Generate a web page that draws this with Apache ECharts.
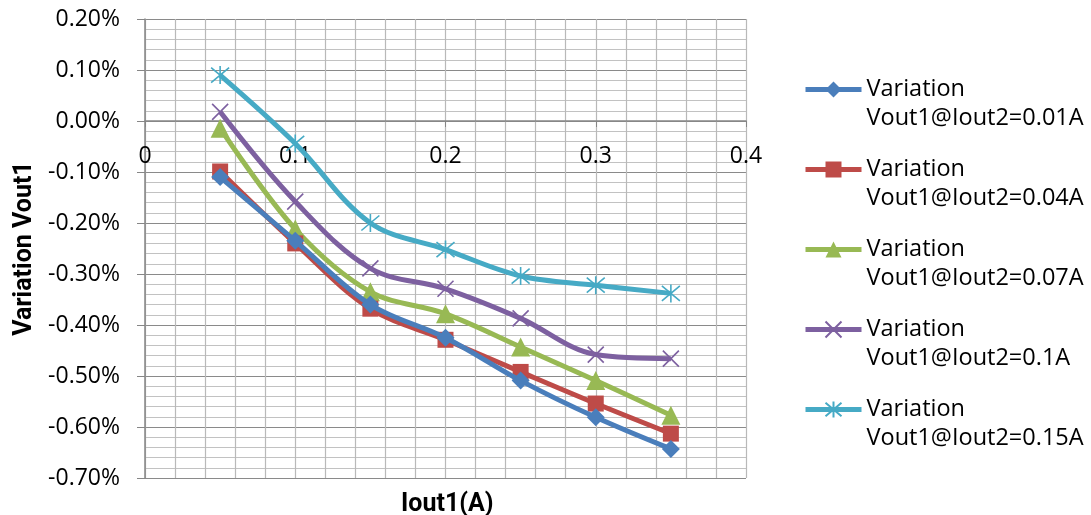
<!DOCTYPE html>
<html>
<head>
<meta charset="utf-8">
<script src="https://cdn.jsdelivr.net/npm/echarts@6/dist/echarts.min.js"></script>
<style>
  html, body { margin: 0; padding: 0; background: #fff; }
  #chart { width: 1091px; height: 515px; }
</style>
</head>
<body>
<div id="chart"></div>
<script>
// Output current Iout1 (A)
const iout1 = [0.05, 0.1, 0.15, 0.2, 0.25, 0.3, 0.35];

// Vout1 variation (%) for each Iout2 load
const varIout2_001 = [-0.110, -0.235, -0.360, -0.425, -0.509, -0.581, -0.643];
const varIout2_004 = [-0.099, -0.240, -0.368, -0.429, -0.492, -0.554, -0.613];
const varIout2_007 = [-0.014, -0.212, -0.335, -0.378, -0.443, -0.509, -0.577];
const varIout2_010 = [0.018, -0.158, -0.289, -0.329, -0.387, -0.458, -0.466];
const varIout2_015 = [0.090, -0.044, -0.200, -0.252, -0.304, -0.322, -0.338];

const seriesNames = [
  'Variation\nVout1@Iout2=0.01A',
  'Variation\nVout1@Iout2=0.04A',
  'Variation\nVout1@Iout2=0.07A',
  'Variation\nVout1@Iout2=0.1A',
  'Variation\nVout1@Iout2=0.15A'
];
const seriesValues = [varIout2_001, varIout2_004, varIout2_007, varIout2_010, varIout2_015];
const colors = ['#4A7EBB', '#BE4B48', '#98B954', '#7D60A0', '#46AAC5'];

const crossPath = 'path://M0 0L10 10M10 0L0 10';
const starPath = 'path://M0 0L10 10M10 0L0 10M5 -1L5 11';
const symbols = ['diamond', 'rect', 'triangle', crossPath, starPath];
const symbolSizes = [18, 16, 19, 16, 18];

const FONT = '"Open Sans"';
const BOLD_FONT = 'Roboto';

const Y_MIN = -0.7, Y_MAX = 0.2;
const GRID = { left: 145, right: 345, top: 19, bottom: 37 };
const PLOT_H = 515 - GRID.top - GRID.bottom;
// the Iout1 axis crosses the plot at 0 %
const zeroOffset = PLOT_H * Y_MAX / (Y_MAX - Y_MIN);

const chart = echarts.init(document.getElementById('chart'));

const series = seriesNames.map((name, i) => ({
  name: name,
  type: 'line',
  smooth: 0.35,
  data: iout1.map((x, k) => [x, seriesValues[i][k]]),
  symbol: symbols[i],
  symbolSize: symbolSizes[i],
  showAllSymbol: true,
  lineStyle: { color: colors[i], width: 5 },
  itemStyle: {
    color: i >= 3 ? 'rgba(0,0,0,0)' : colors[i],
    borderColor: colors[i],
    borderWidth: i >= 3 ? 1.6 : 0
  },
  emphasis: { disabled: true },
  z: 2 + (4 - i)
}));

chart.setOption({
  animation: false,
  backgroundColor: '#fff',
  textStyle: { fontFamily: FONT },
  grid: GRID,
  title: {
    text: 'Iout1(A)',
    left: 401,
    top: 492,
    padding: 0,
    textStyle: { fontFamily: BOLD_FONT, fontSize: 25, fontWeight: 'bold', color: '#000' }
  },
  legend: {
    orient: 'vertical',
    left: 803,
    top: 46,
    padding: 0,
    itemWidth: 56,
    itemHeight: 20,
    itemGap: -7,
    selectedMode: false,
    data: seriesNames,
    lineStyle: { width: 5 },
    // an empty first line keeps the marker level with "Variation"
    formatter: name => '\u200b\n' + name,
    textStyle: {
      fontFamily: FONT,
      fontSize: 23.5,
      lineHeight: 29,
      color: '#000'
    }
  },
  xAxis: {
    type: 'value',
    position: 'top',
    offset: -zeroOffset,
    min: 0,
    max: 0.4,
    interval: 0.1,
    axisLine: { onZero: false, lineStyle: { color: '#868686', width: 1.5 } },
    axisTick: { show: true, inside: true, length: 6, lineStyle: { color: '#868686' } },
    axisLabel: {
      inside: true,
      margin: 24,
      fontFamily: FONT,
      fontSize: 23,
      color: '#000',
      showMinLabel: true,
      showMaxLabel: true,
      formatter: v => String(+v.toFixed(1))
    },
    splitLine: { show: true, lineStyle: { color: '#b9b9b9', width: 1.2 } },
    minorTick: { show: false, splitNumber: 5 },
    minorSplitLine: { show: true, lineStyle: { color: '#b9b9b9', width: 1.2 } }
  },
  yAxis: {
    type: 'value',
    min: Y_MIN,
    max: Y_MAX,
    interval: 0.1,
    name: 'Variation Vout1',
    nameLocation: 'middle',
    nameGap: 108,
    nameTextStyle: { fontFamily: BOLD_FONT, fontSize: 25, fontWeight: 'bold', color: '#000' },
    axisLine: { show: true, onZero: false, lineStyle: { color: '#868686', width: 1.5 } },
    axisTick: { show: true, inside: false, length: 8, lineStyle: { color: '#868686' } },
    axisLabel: {
      margin: 25,
      fontFamily: FONT,
      fontSize: 23,
      color: '#000',
      formatter: v => v.toFixed(2) + '%'
    },
    splitLine: { show: true, lineStyle: { color: '#8a8a8a', width: 1.2 } },
    minorTick: { show: false, splitNumber: 5 },
    minorSplitLine: { show: true, lineStyle: { color: '#c2c2c2', width: 1.2 } }
  },
  series: series
});
</script>
</body>
</html>
